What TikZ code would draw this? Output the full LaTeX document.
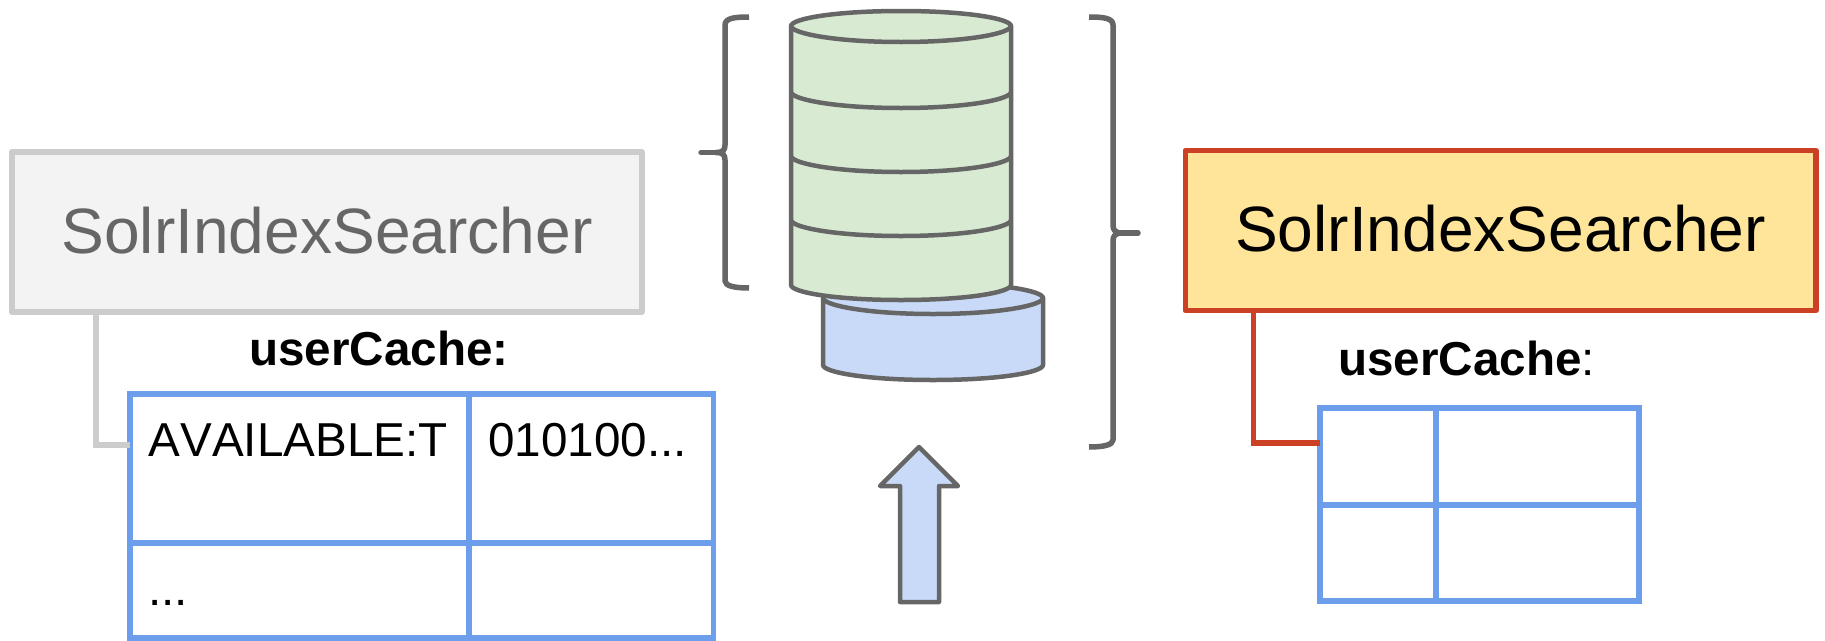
\documentclass[tikz,border=0pt]{standalone}
\usepackage{fontspec}
\setmainfont[Kerning=Off]{Liberation Sans}
\definecolor{gborder}{HTML}{CCCCCC}
\definecolor{gfill}{HTML}{F3F3F3}
\definecolor{gtext}{HTML}{666666}
\definecolor{tblue}{HTML}{6D9EEB}
\definecolor{redline}{HTML}{CC4125}
\definecolor{yfill}{HTML}{FFE599}
\definecolor{cgreen}{HTML}{D9EAD3}
\definecolor{cblue}{HTML}{C9DAF8}
\tikzset{
  x=1pt,y=-1pt,
  searcher/.style={rectangle,inner sep=0pt,line width=5.5pt,minimum width=#1,minimum height=160pt,line join=round,font=\fontsize{64.1}{70}\selectfont},
  oldbox/.style={searcher=630pt,draw=gborder,fill=gfill,text=gtext},
  newbox/.style={searcher=630.5pt,draw=redline,fill=yfill,text=black},
  cachetable/.style={rectangle,draw=tblue,line width=5.8pt,inner sep=0pt},
  gridline/.style={draw=tblue,line width=5.8pt},
  oldlink/.style={draw=gborder,line width=5.5pt},
  newlink/.style={draw=redline,line width=5.5pt},
  label/.style={inner sep=0pt,anchor=base west,font=\fontsize{47.6}{52}\selectfont},
  can/.style={draw=gtext,line width=4.5pt,line join=round},
  bracepath/.style={draw=gtext,line width=5.5pt,line join=round},
}
\begin{document}
\begin{tikzpicture}
\useasboundingbox (0,0) rectangle (1825,640);
% left searcher
\node[oldbox,text depth=3pt] (oldsearcher) at (327,232) {SolrIndexSearcher};
\node[cachetable,minimum width=583.5pt,minimum height=244pt] (oldtable) at (421.75,516) {};
\coordinate (oldin) at (130,445);
\coordinate (oldout) at (96,312);
\draw[oldlink] (oldout) |- (oldin);
\draw[gridline] (oldtable.west |- 0,543) -- (oldtable.east |- 0,543);
\draw[gridline] (469,0 |- oldtable.north) -- (469,0 |- oldtable.south);
\node[label,font=\fontsize{47.6}{52}\selectfont\bfseries] (oldcache) at (249,365) {userCache:};
\node[label] (avail) at (148.5,456) {AVAILABLE:T};
\node[label] (bits) at (488,456) {010100...};
\node[label] (dots) at (148,605) {...};
% blue cylinder
\path[can,fill=cblue] (823,298) -- (823,365) .. controls (823,372) and (865,380) .. (933,380) .. controls (1001,380) and (1043,372) .. (1043,365) -- (1043,298) .. controls (1043,291) and (1001,283) .. (933,283) .. controls (865,283) and (823,291) .. (823,298) -- cycle;
\draw[can] (823,298) .. controls (823,305) and (865,314) .. (933,314) .. controls (1001,314) and (1043,305) .. (1043,298);
% green cylinder
\path[can,fill=cgreen] (791,26) -- (791,285) .. controls (791,292) and (833,300) .. (901,300) .. controls (969,300) and (1011,292) .. (1011,285) -- (1011,26) .. controls (1011,19) and (969,11) .. (901,11) .. controls (833,11) and (791,19) .. (791,26) -- cycle;
\draw[can] (791,26) .. controls (791,33) and (833,42) .. (901,42) .. controls (969,42) and (1011,33) .. (1011,26);
\foreach \Y in {92,156,220}
  \draw[can] (791,\Y) .. controls (791,\Y+7) and (833,\Y+16) .. (901,\Y+16) .. controls (969,\Y+16) and (1011,\Y+7) .. (1011,\Y);
% left brace
\draw[bracepath] (749,17) .. controls (735,17) and (725,18) .. (725,25) -- (725,145) .. controls (725,150) and (723,152.5) .. (716,152.5) .. controls (723,152.5) and (725,155) .. (725,160) -- (725,281) .. controls (725,286) and (735,288) .. (749,288);
\draw[bracepath,line cap=round] (716,152.5) -- (701,152.5);
% right brace
\draw[bracepath] (1089,17) .. controls (1103,17) and (1113,18) .. (1113,25) -- (1113,225) .. controls (1113,230) and (1115,233) .. (1122,233) .. controls (1115,233) and (1113,236) .. (1113,241) -- (1113,440) .. controls (1113,445) and (1103,447) .. (1089,447);
\draw[bracepath,line cap=round] (1122,233) -- (1138,233);
% arrow
\path[can,fill=cblue] (919,447) -- (958,486) -- (939,486) -- (939,602) -- (900,602) -- (900,486) -- (880,486) -- cycle;
% right searcher
\node[newbox,text depth=4pt] (newsearcher) at (1500.5,230.5) {SolrIndexSearcher};
\node[cachetable,minimum width=319pt,minimum height=193pt] (newtable) at (1479.5,504.5) {};
\coordinate (newin) at (1320,443);
\coordinate (newout) at (1253.5,311);
\draw[newlink] (newout) |- (newin);
\draw[gridline] (newtable.west |- 0,505) -- (newtable.east |- 0,505);
\draw[gridline] (1436,0 |- newtable.north) -- (1436,0 |- newtable.south);
\node[label] (newcache) at (1338,375) {\textbf{userCache}:};
\end{tikzpicture}
\end{document}
